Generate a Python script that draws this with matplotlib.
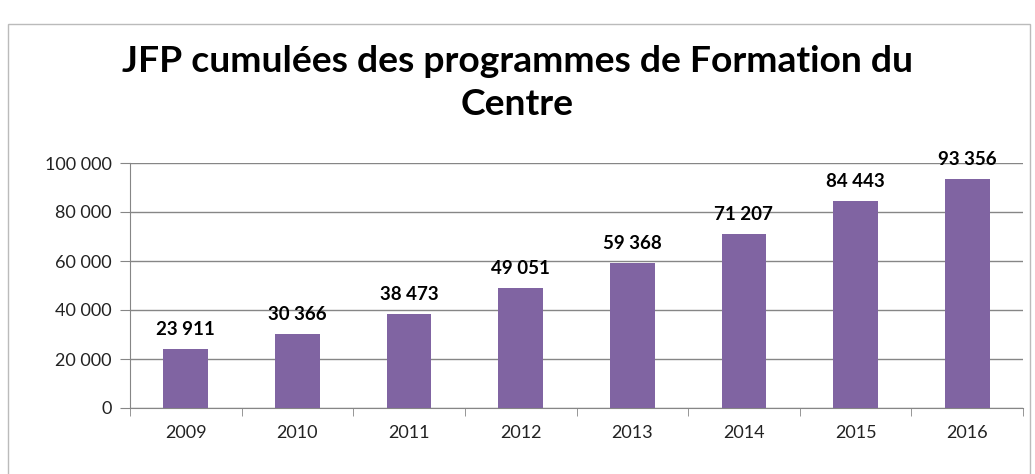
import matplotlib.pyplot as plt
from matplotlib.patches import Rectangle
from matplotlib.ticker import FuncFormatter, MultipleLocator

years = ["2009", "2010", "2011", "2012", "2013", "2014", "2015", "2016"]
jfp = [23911, 30366, 38473, 49051, 59368, 71207, 84443, 93356]
title = "JFP cumulées des programmes de Formation du\nCentre"

plt.rcParams['font.family'] = ['Lato', 'DejaVu Sans']

def fmt(v, pos=None):
    return f"{int(v):,}".replace(",", " ")

fig = plt.figure(figsize=(10.35, 4.74), dpi=100)
ax = fig.add_axes([130 / 1035, 66 / 474, 893 / 1035, 245 / 474])

x = range(len(years))
ax.bar(x, jfp, width=0.4, color="#8064A2", zorder=3)
for xi, v in zip(x, jfp):
    ax.annotate(fmt(v), (xi, v), xytext=(0, 14), textcoords="offset points",
                ha="center", va="center", fontsize=13.5, fontweight="bold")

ax.set_xlim(-0.5, len(years) - 0.5)
ax.set_ylim(0, 100000)
ax.yaxis.set_major_locator(MultipleLocator(20000))
ax.yaxis.set_major_formatter(FuncFormatter(fmt))
ax.set_xticks(list(x))
ax.set_xticklabels(years)
ax.set_xticks([i + 0.5 for i in range(-1, len(years))], minor=True)
ax.tick_params(axis="x", which="major", length=0, pad=12, labelsize=13,
               labelcolor="#222222")
ax.tick_params(axis="x", which="minor", length=6, color="#868686")
ax.tick_params(axis="y", length=7, color="#868686", pad=6, labelsize=13,
               labelcolor="#222222")
ax.grid(axis="y", color="#868686", linewidth=1, zorder=0)

for s in ["top", "right"]:
    ax.spines[s].set_visible(False)
for s in ["left", "bottom"]:
    ax.spines[s].set_color("#868686")

fig.text(0.5, 0.825, title, ha="center", va="center", fontsize=26.8,
         fontweight="bold", linespacing=1.38)

fig.patches.append(Rectangle((8 / 1035, -0.02), 1022 / 1035, 459 / 474,
                             transform=fig.transFigure, fill=False,
                             edgecolor="#BBBBBB", linewidth=1))

fig.savefig("out.png", dpi=100)
